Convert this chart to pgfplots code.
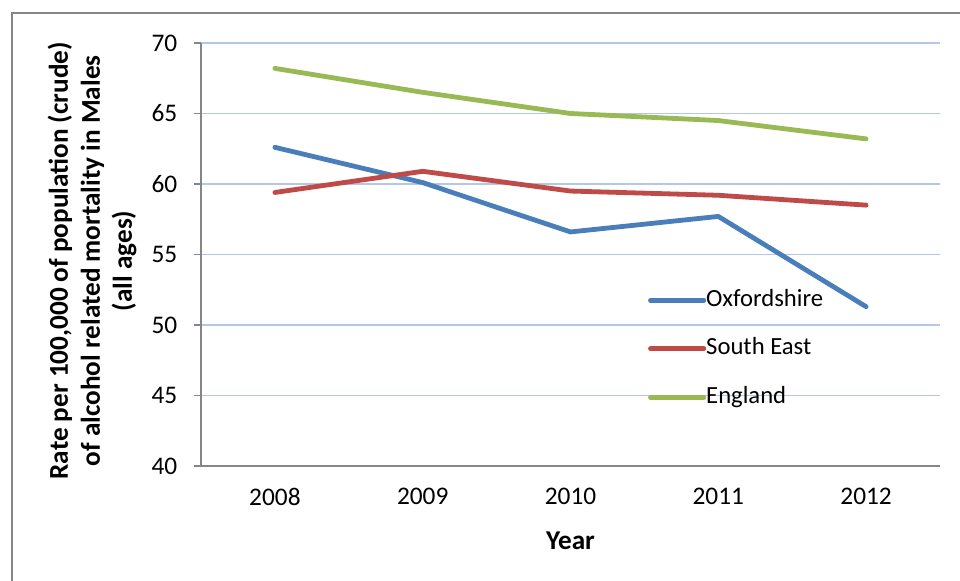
\documentclass[border=0pt]{standalone}
\usepackage{pgfplots}
\pgfplotsset{compat=1.18}
\usepackage{fontspec}
\setmainfont{Carlito}

\definecolor{oxf}{HTML}{4A7EBB}
\definecolor{sea}{HTML}{BE4B48}
\definecolor{eng}{HTML}{98B954}
\definecolor{gridblue}{HTML}{B3C8E8}
\definecolor{axgray}{HTML}{868686}

\newcommand{\tickfont}{\fontsize{19}{22}\selectfont}
\newcommand{\legfont}{\fontsize{18.5}{22}\selectfont}
\newcommand{\labfont}{\bfseries\fontsize{20.4}{24}\selectfont}

\begin{document}
\begin{tikzpicture}
% page area and chart frame
\useasboundingbox (0pt,0pt) rectangle (720pt,435.75pt);
\draw[axgray, line width=1.1pt] (9pt,-5pt) -- (9pt,426pt) -- (725pt,426pt);
\begin{axis}[
  at={(150.75pt,86.25pt)}, anchor=south west,
  scale only axis, width=554.25pt, height=317.25pt,
  xmin=-0.5, xmax=4.5, ymin=40, ymax=70,
  axis lines*=left,
  axis line style={axgray, line width=1.1pt},
  every tick/.style={axgray, line width=1.1pt},
  tick align=outside,
  major tick length=5.25pt,
  xtick={0,1,2,3,4},
  xticklabels={2008,2009,2010,2011,2012},
  major x tick style={draw=none},
  extra x ticks={-0.5,0.5,1.5,2.5,3.5,4.5},
  extra x tick labels={},
  extra x tick style={grid=none, major tick length=5.25pt},
  ytick={40,45,50,55,60,65,70},
  ymajorgrids,
  grid style={gridblue, line width=0.8pt},
  tick label style={font=\tickfont, text=black},
  xticklabel style={yshift=-7.5pt},
  yticklabel style={xshift=-9pt},
  /pgf/number format/assume math mode=true,
  xlabel={Year},
  xlabel style={font=\labfont, at={(axis description cs:0.5,-0.177)}, anchor=center},
  ylabel={Rate per 100,000 of population (crude)\\of alcohol related mortality in Males\\(all ages)},
  ylabel style={align=center, font=\labfont,
    at={(axis description cs:-0.1475,0.485)}, anchor=center},
  legend style={draw=none, fill=none, inner sep=0pt, outer sep=0pt,
    at={(axis description cs:0.605,0.277)}, anchor=west,
    font=\legfont, row sep=19.35pt,
    nodes={inner sep=0pt, text height=13pt, text depth=4pt}},
  legend cell align=left,
  legend image code/.code={\draw[#1, line cap=round] (0pt,0pt) -- (40pt,0pt);},
  every axis plot/.append style={line width=3.6pt, line join=round, line cap=round},
]
\addplot[oxf] coordinates {(0,62.6) (1,60.1) (2,56.6) (3,57.7) (4,51.3)};
\addlegendentry{Oxfordshire}
\addplot[sea] coordinates {(0,59.4) (1,60.9) (2,59.5) (3,59.2) (4,58.5)};
\addlegendentry{South East}
\addplot[eng] coordinates {(0,68.2) (1,66.5) (2,65.0) (3,64.5) (4,63.2)};
\addlegendentry{England}
\end{axis}
\end{tikzpicture}
\end{document}
